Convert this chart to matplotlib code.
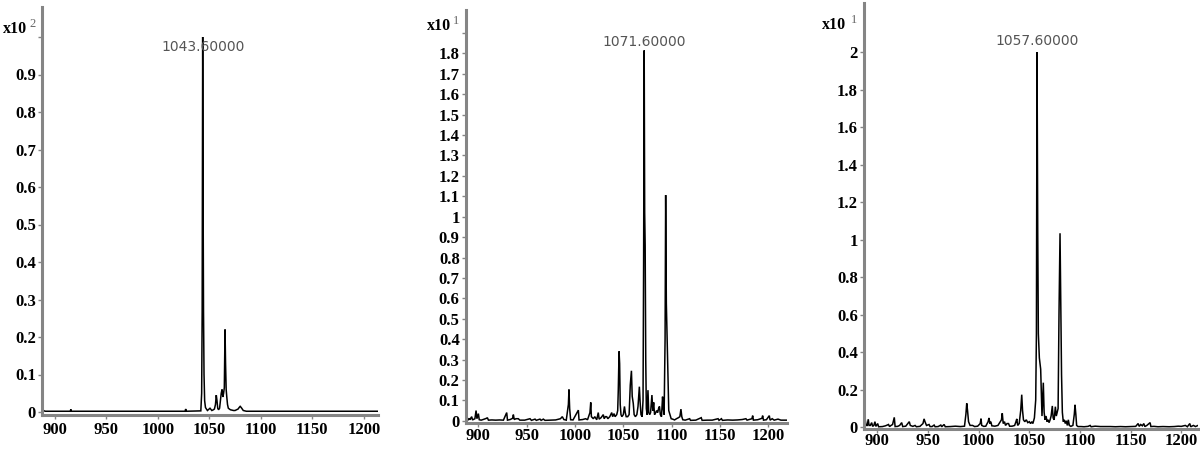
import matplotlib
matplotlib.use("Agg")
import matplotlib.pyplot as plt
import numpy as np

# ---------------- data ----------------
mz1 = [
    887.6, 888.2, 888.8, 889.5, 891.0, 915.0, 915.6, 916.2, 1026.5, 1027.1,
    1027.7, 1041.8, 1042.6, 1043.1, 1043.6, 1044.0, 1044.4, 1044.9, 1045.5, 1046.3,
    1047.2, 1048.2, 1050.7, 1052.5, 1054.0, 1055.0, 1056.0, 1056.8, 1057.5, 1058.2,
    1059.0, 1060.0, 1060.8, 1061.6, 1062.4, 1063.2, 1063.9, 1064.6, 1065.3, 1065.8,
    1066.4, 1067.0, 1067.7, 1068.5, 1069.5, 1070.5, 1072.0, 1073.5, 1075.0, 1076.5,
    1078.0, 1079.0, 1080.0, 1081.0, 1082.0, 1083.0, 1084.5, 1086.0, 1213.8]
int1 = [
    0.012, 0.008, 0.005, 0.003, 0.002, 0.002, 0.007, 0.002, 0.002, 0.008,
    0.002, 0.003, 0.05, 0.27, 1.0, 0.58, 0.27, 0.1, 0.03, 0.012,
    0.008, 0.004, 0.01, 0.004, 0.006, 0.008, 0.02, 0.045, 0.03, 0.01,
    0.006, 0.01, 0.03, 0.05, 0.06, 0.04, 0.05, 0.065, 0.22, 0.13,
    0.06, 0.04, 0.02, 0.01, 0.008, 0.006, 0.005, 0.004, 0.004, 0.006,
    0.008, 0.012, 0.015, 0.012, 0.008, 0.004, 0.003, 0.002, 0.002]

mz2 = [
    887.6, 888.2, 889.5, 890.5, 891.2, 893.2, 894.0, 896.5, 897.7, 898.6,
    900.1, 901.0, 903.0, 905.0, 908.5, 909.4, 910.5, 914.0, 918.0, 922.0,
    926.0, 929.4, 930.2, 933.0, 935.5, 936.3, 937.2, 939.0, 941.4, 943.0,
    948.0, 953.5, 955.0, 958.7, 960.0, 963.8, 965.0, 967.3, 969.0, 975.0,
    980.0, 985.0, 986.9, 988.5, 991.0, 993.2, 993.8, 994.5, 995.5, 998.0,
    1003.5, 1004.2, 1008.0, 1011.0, 1013.0, 1015.5, 1016.3, 1017.0, 1019.0, 1020.5,
    1022.5, 1024.1, 1025.0, 1027.0, 1029.3, 1030.2, 1031.5, 1032.8, 1034.0, 1036.0,
    1038.0, 1039.0, 1040.4, 1041.5, 1043.2, 1044.2, 1044.8, 1045.6, 1046.2, 1046.8,
    1047.6, 1048.5, 1050.0, 1051.2, 1052.0, 1053.0, 1054.5, 1056.0, 1057.2, 1058.4,
    1059.2, 1060.3, 1061.2, 1062.5, 1064.0, 1065.2, 1066.6, 1067.4, 1068.3, 1069.5,
    1070.4, 1071.0, 1071.6, 1072.1, 1072.6, 1073.2, 1073.8, 1074.6, 1075.5, 1076.3,
    1077.3, 1078.2, 1079.6, 1080.5, 1081.4, 1082.3, 1083.5, 1084.5, 1085.5, 1086.5,
    1087.4, 1088.3, 1089.5, 1090.6, 1091.4, 1092.2, 1093.2, 1093.8, 1094.5, 1095.3,
    1096.2, 1097.0, 1098.3, 1099.5, 1101.0, 1103.0, 1105.0, 1107.0, 1108.5, 1109.6,
    1110.5, 1111.5, 1114.0, 1118.6, 1119.5, 1125.0, 1130.6, 1131.5, 1137.0, 1142.0,
    1148.0, 1149.0, 1151.5, 1152.5, 1158.0, 1163.0, 1168.0, 1173.0, 1176.8, 1178.0,
    1183.0, 1183.8, 1184.6, 1189.0, 1193.4, 1194.1, 1195.0, 1198.0, 1201.0, 1201.8,
    1204.0, 1206.0, 1210.0, 1213.0, 1219.0]
int2 = [
    0.055, 0.01, 0.005, 0.012, 0.005, 0.02, 0.004, 0.01, 0.05, 0.01,
    0.035, 0.005, 0.003, 0.006, 0.012, 0.015, 0.003, 0.004, 0.003, 0.004,
    0.003, 0.04, 0.003, 0.006, 0.012, 0.03, 0.006, 0.01, 0.01, 0.003,
    0.003, 0.01, 0.002, 0.008, 0.002, 0.008, 0.002, 0.008, 0.002, 0.003,
    0.004, 0.01, 0.02, 0.006, 0.003, 0.08, 0.153, 0.06, 0.005, 0.004,
    0.052, 0.004, 0.006, 0.01, 0.005, 0.04, 0.09, 0.02, 0.01, 0.02,
    0.005, 0.04, 0.008, 0.015, 0.03, 0.01, 0.02, 0.02, 0.01, 0.02,
    0.04, 0.02, 0.035, 0.02, 0.03, 0.05, 0.15, 0.34, 0.28, 0.08,
    0.03, 0.02, 0.03, 0.07, 0.04, 0.02, 0.02, 0.03, 0.175, 0.245,
    0.12, 0.085, 0.03, 0.02, 0.03, 0.07, 0.167, 0.09, 0.03, 0.02,
    0.1, 0.77, 1.815, 1.02, 0.86, 0.3, 0.06, 0.03, 0.15, 0.04,
    0.03, 0.04, 0.126, 0.05, 0.09, 0.03, 0.04, 0.05, 0.04, 0.06,
    0.07, 0.03, 0.02, 0.118, 0.06, 0.03, 0.4, 1.106, 0.576, 0.4,
    0.215, 0.05, 0.03, 0.01, 0.008, 0.004, 0.01, 0.015, 0.02, 0.057,
    0.02, 0.005, 0.003, 0.01, 0.002, 0.003, 0.015, 0.002, 0.003, 0.003,
    0.01, 0.002, 0.01, 0.002, 0.004, 0.003, 0.004, 0.006, 0.01, 0.003,
    0.01, 0.025, 0.003, 0.005, 0.012, 0.025, 0.003, 0.005, 0.025, 0.003,
    0.01, 0.003, 0.008, 0.003, 0.003]

mz3 = [
    887.2, 887.8, 888.8, 890.0, 891.0, 891.8, 893.0, 894.4, 895.3, 896.5,
    897.6, 898.5, 900.3, 901.2, 905.0, 908.0, 911.0, 912.0, 913.5, 915.0,
    916.7, 917.5, 920.0, 922.0, 924.0, 925.0, 928.0, 931.5, 932.5, 935.0,
    937.2, 938.5, 942.0, 945.0, 946.1, 947.0, 948.5, 951.0, 952.0, 954.0,
    956.0, 957.0, 960.0, 962.6, 963.5, 965.9, 967.0, 972.0, 977.0, 982.0,
    986.0, 987.4, 988.2, 989.0, 990.0, 991.5, 994.0, 996.0, 999.0, 1001.5,
    1002.3, 1003.0, 1005.0, 1007.0, 1009.3, 1010.2, 1011.0, 1012.0, 1013.0, 1016.0,
    1019.0, 1022.5, 1023.3, 1024.2, 1025.5, 1026.5, 1028.0, 1029.5, 1030.5, 1033.0,
    1035.5, 1036.8, 1037.6, 1038.5, 1040.0, 1041.5, 1042.5, 1043.3, 1044.2, 1045.5,
    1047.0, 1048.5, 1050.0, 1051.2, 1052.5, 1053.5, 1055.0, 1056.3, 1057.0, 1057.6,
    1058.3, 1058.9, 1059.9, 1061.2, 1062.5, 1063.8, 1064.6, 1065.5, 1066.5, 1067.5,
    1068.5, 1069.5, 1070.5, 1071.5, 1072.7, 1073.5, 1074.5, 1075.7, 1076.6, 1078.4,
    1079.3, 1080.3, 1081.0, 1081.8, 1082.6, 1083.5, 1084.5, 1085.5, 1086.5, 1087.5,
    1088.5, 1089.5, 1091.0, 1093.0, 1094.4, 1095.1, 1095.9, 1096.7, 1098.0, 1101.0,
    1104.0, 1108.0, 1110.0, 1111.0, 1115.0, 1120.0, 1125.0, 1130.0, 1135.0, 1140.0,
    1145.0, 1150.0, 1155.0, 1157.4, 1158.5, 1160.0, 1161.5, 1163.0, 1164.0, 1166.0,
    1169.2, 1170.0, 1173.0, 1177.0, 1182.0, 1188.0, 1193.0, 1197.0, 1200.0, 1204.0,
    1206.0, 1208.4, 1209.3, 1212.0, 1214.0, 1216.5]
int3 = [
    0.12, 0.05, 0.01, 0.01, 0.043, 0.01, 0.01, 0.025, 0.005, 0.01,
    0.03, 0.005, 0.02, 0.003, 0.004, 0.008, 0.015, 0.004, 0.01, 0.015,
    0.053, 0.004, 0.005, 0.01, 0.025, 0.004, 0.006, 0.03, 0.01, 0.005,
    0.01, 0.003, 0.005, 0.02, 0.045, 0.03, 0.01, 0.015, 0.004, 0.004,
    0.012, 0.003, 0.004, 0.012, 0.003, 0.015, 0.003, 0.004, 0.006, 0.004,
    0.006, 0.07, 0.128, 0.09, 0.03, 0.01, 0.01, 0.004, 0.006, 0.02,
    0.046, 0.01, 0.005, 0.006, 0.03, 0.05, 0.02, 0.03, 0.008, 0.006,
    0.01, 0.04, 0.075, 0.02, 0.03, 0.01, 0.02, 0.02, 0.006, 0.006,
    0.01, 0.03, 0.045, 0.01, 0.02, 0.09, 0.174, 0.09, 0.04, 0.03,
    0.04, 0.025, 0.03, 0.02, 0.03, 0.02, 0.05, 0.146, 0.5, 2.0,
    1.035, 0.5, 0.37, 0.31, 0.06, 0.238, 0.08, 0.04, 0.06, 0.03,
    0.04, 0.025, 0.04, 0.06, 0.114, 0.05, 0.04, 0.11, 0.06, 0.1,
    0.608, 1.035, 0.705, 0.28, 0.08, 0.03, 0.04, 0.02, 0.035, 0.01,
    0.04, 0.01, 0.005, 0.01, 0.07, 0.12, 0.07, 0.01, 0.004, 0.004,
    0.003, 0.005, 0.01, 0.003, 0.006, 0.004, 0.004, 0.004, 0.003, 0.004,
    0.003, 0.004, 0.005, 0.02, 0.005, 0.015, 0.008, 0.02, 0.004, 0.01,
    0.025, 0.004, 0.005, 0.003, 0.004, 0.003, 0.004, 0.006, 0.005, 0.01,
    0.003, 0.02, 0.003, 0.01, 0.004, 0.01]

xticks = [900, 950, 1000, 1050, 1100, 1150, 1200]
yticks1 = [0, 0.1, 0.2, 0.3, 0.4, 0.5, 0.6, 0.7, 0.8, 0.9, 1.0]
ylabels1 = ["0", "0.1", "0.2", "0.3", "0.4", "0.5", "0.6", "0.7", "0.8", "0.9", ""]
yticks2 = [0, 0.1, 0.2, 0.3, 0.4, 0.5, 0.6, 0.7, 0.8, 0.9, 1.0,
           1.1, 1.2, 1.3, 1.4, 1.5, 1.6, 1.7, 1.8, 1.9]
ylabels2 = ["0", "0.1", "0.2", "0.3", "0.4", "0.5", "0.6", "0.7", "0.8", "0.9", "1",
            "1.1", "1.2", "1.3", "1.4", "1.5", "1.6", "1.7", "1.8", ""]
yticks3 = [0, 0.2, 0.4, 0.6, 0.8, 1.0, 1.2, 1.4, 1.6, 1.8, 2.0]
ylabels3 = ["0", "0.2", "0.4", "0.6", "0.8", "1", "1.2", "1.4", "1.6", "1.8", "2"]
exponents = ["2", "1", "1"]

# ---------------- layout ----------------
W, H = 1200, 451
fig = plt.figure(figsize=(W / 100, H / 100), dpi=100)
fig.patch.set_facecolor("white")

SERIF = ["Liberation Serif", "DejaVu Serif"]
AXCOL = "#858585"

panels = [
    dict(box=(42, 378, 7, 415), xlim=(887.6, 1213.8), ylim=(-0.008, 1.08),
         yt=yticks1, yl=ylabels1, mz=mz1, it=int1, dy=-7.2, xpad=2.0,
         x10=(3, 29), sup=(29, 24)),
    dict(box=(466, 787, 10, 423), xlim=(887.3, 1219.3), ylim=(-0.011, 2.013),
         yt=yticks2, yl=ylabels2, mz=mz2, it=int2, dy=6.0, xpad=0.8,
         x10=(427, 26), sup=(453, 21)),
    dict(box=(864, 1198, 3, 429), xlim=(886.8, 1216.5), ylim=(-0.009, 2.263),
         yt=yticks3, yl=ylabels3, mz=mz3, it=int3, dy=8.0, xpad=0.0,
         x10=(822, 25), sup=(851, 20)),
]

for p, exp in zip(panels, exponents):
    l, r, t, b = p["box"]
    ax = fig.add_axes([l / W, 1 - b / H, (r - l) / W, (b - t) / H])
    mz = np.array(p["mz"])
    it = np.array(p["it"])
    ax.plot(mz, it, color="black", lw=1.1, solid_joinstyle="miter")
    ax.set_xlim(*p["xlim"])
    ax.set_ylim(*p["ylim"])
    for s in ("top", "right"):
        ax.spines[s].set_visible(False)
    for s in ("left", "bottom"):
        ax.spines[s].set_color(AXCOL)
        ax.spines[s].set_linewidth(2.2)
    ax.set_xticks(xticks)
    ax.set_xticklabels([str(v) for v in xticks])
    ax.set_yticks(p["yt"])
    ax.set_yticklabels(p["yl"])
    ax.tick_params(axis="both", direction="out", length=3, width=1, color=AXCOL)
    ax.tick_params(axis="x", pad=p["xpad"])
    ax.tick_params(axis="y", pad=1.5)
    for lab in ax.get_xticklabels() + ax.get_yticklabels():
        lab.set_fontfamily(SERIF)
        lab.set_fontweight("bold")
        lab.set_fontsize(12)
    # peak annotation
    k = int(np.argmax(it))
    ax.annotate(f"{mz[k]:.5f}", xy=(mz[k], it[k]), xytext=(0, p["dy"]),
                textcoords="offset points", ha="center", va="center",
                fontsize=10, color="#555555", family="DejaVu Sans")
    # scale factor label
    fx, fy = p["x10"]
    fig.text(fx / W, 1 - fy / H, "x10", ha="left", va="center",
             fontsize=11.5, fontweight="bold", family=SERIF, color="black")
    sx, sy = p["sup"]
    fig.text(sx / W, 1 - sy / H, exp, ha="left", va="center",
             fontsize=9, color="#666666", family=SERIF)

fig.savefig("out.png", dpi=100, facecolor="white")
